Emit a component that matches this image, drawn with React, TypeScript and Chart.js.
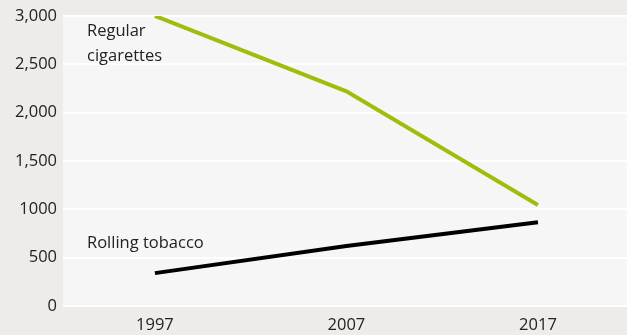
import React, { useEffect, useRef } from "react";
import { Chart, registerables } from "chart.js";

Chart.register(...registerables);

const years = [1997, 2007, 2017];
const regularCigarettes = [3000, 2220, 1045];
const rollingTobacco = [340, 620, 865];
const yTickValues = [0, 500, 1000, 1500, 2000, 2500, 3000];
const yTickLabels = ["0", "500", "1000", "1,500", "2,000", "2,500", "3,000"];
const seriesNames = ["Regular cigarettes", "Rolling tobacco"];

const FONT = "'Open Sans', 'Noto Sans', sans-serif";
const FS = 16.5;

const plotBg = {
  id: "plotBg",
  beforeDraw(chart: any) {
    const { ctx, chartArea } = chart;
    ctx.save();
    ctx.fillStyle = "#f6f6f6";
    ctx.fillRect(chartArea.left, chartArea.top, chartArea.right - chartArea.left, chartArea.bottom - chartArea.top);
    ctx.restore();
  },
};

const labels = {
  id: "seriesLabels",
  afterDatasetsDraw(chart: any) {
    const { ctx, chartArea, scales } = chart;
    ctx.save();
    ctx.fillStyle = "#222";
    ctx.font = `${FS}px ${FONT}`;
    ctx.textBaseline = "middle";
    ctx.textAlign = "left";
    const x = chartArea.left + 24;
    ctx.fillText("Regular", x, scales.y.getPixelForValue(2836));
    ctx.fillText("cigarettes", x, scales.y.getPixelForValue(2579));
    ctx.fillText("Rolling tobacco", x, scales.y.getPixelForValue(648));
    ctx.restore();
  },
};

export default function App() {
  const ref = useRef<HTMLCanvasElement>(null);
  useEffect(() => {
    if (!ref.current) return;
    const chart = new Chart(ref.current, {
      type: "line",
      data: {
        datasets: [
          {
            label: seriesNames[0],
            data: years.map((y, i) => ({ x: y, y: regularCigarettes[i] })),
            borderColor: "#9fbd0a",
            borderWidth: 4,
            pointRadius: 0,
            tension: 0,
          },
          {
            label: seriesNames[1],
            data: years.map((y, i) => ({ x: y, y: rollingTobacco[i] })),
            borderColor: "#000000",
            borderWidth: 4,
            pointRadius: 0,
            tension: 0,
          },
        ],
      },
      options: {
        animation: false,
        responsive: false,
        maintainAspectRatio: false,
        layout: { padding: { top: 3, right: 0, bottom: 0, left: 0 } },
        plugins: { legend: { display: false }, tooltip: { enabled: false } },
        scales: {
          x: {
            type: "linear",
            min: 1992.2,
            max: 2021.65,
            afterBuildTicks(scale: any) {
              scale.ticks = years.map((v) => ({ value: v }));
            },
            afterFit(scale: any) {
              scale.height = 29;
            },
            grid: { display: false, drawTicks: false },
            border: { display: false },
            ticks: {
              color: "#222",
              font: { size: FS, family: FONT },
              padding: 9,
              maxRotation: 0,
              callback: (v: any) => String(v),
            },
          },
          y: {
            min: 0,
            max: 3000,
            afterBuildTicks(scale: any) {
              scale.ticks = yTickValues.map((v) => ({ value: v }));
            },
            afterFit(scale: any) {
              scale.width = 63;
            },
            grid: { color: "#ffffff", lineWidth: 2, drawTicks: false },
            border: { display: false },
            ticks: {
              color: "#222",
              font: { size: FS, family: FONT },
              padding: 6,
              callback: (v: any) => {
                const i = yTickValues.indexOf(Number(v));
                return i >= 0 ? yTickLabels[i] : "";
              },
            },
          },
        },
      },
      plugins: [plotBg, labels],
    });
    return () => chart.destroy();
  }, []);
  return (
    <div style={{ position: "fixed", left: 0, top: 0, width: 627, height: 335, background: "#eeebe8" }}>
      <canvas ref={ref} width={627} height={335} />
    </div>
  );
}
